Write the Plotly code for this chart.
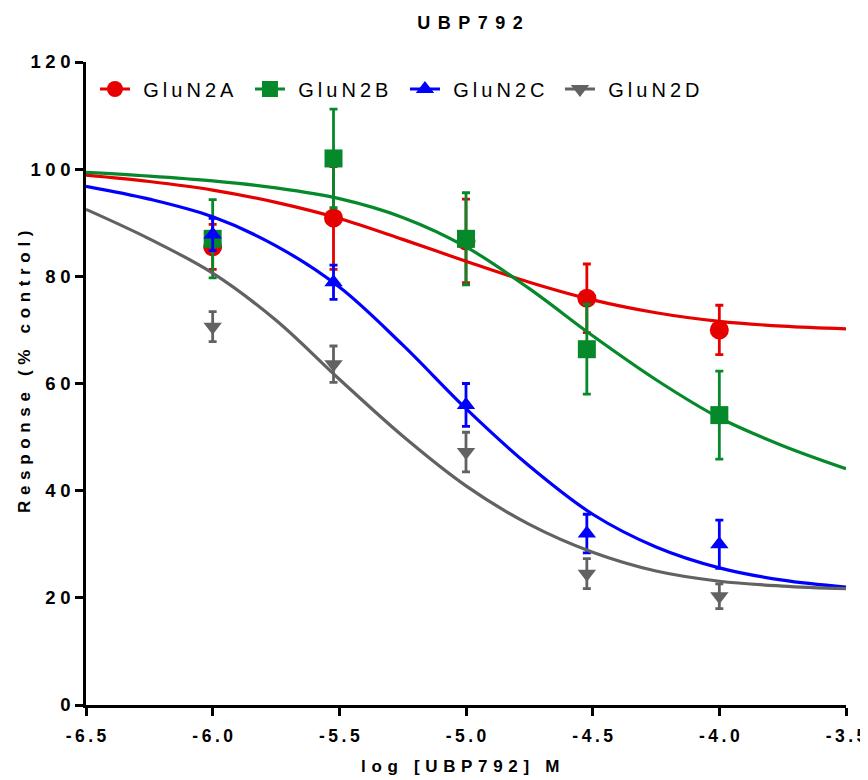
import plotly.graph_objects as go

# spacing characters used to mimic the letter-spaced GraphPad text
S_TITLE = "\u2004\u200a"
S_XTICK = "\u2009"
S_YTICK = "\u2005"
S_XLAB = "\u2004"
S_YLAB = "\u2005\u200a"
S_LEG = "\u2009"
LEG_PAD = "\u2004\u200a"


def spaced(s, sep):
    return sep.join(list(s))


# ---- data points (mean ± SEM) ----
x_pts = [-6.0, -5.523, -5.0, -4.523, -4.0]

glun2a_y = [85.5, 90.9, 86.6, 75.9, 70.0]
glun2a_e = [4.2, 9.6, 7.8, 6.4, 4.6]

glun2b_y = [87.0, 102.0, 87.0, 66.4, 54.1]
glun2b_e = [7.3, 9.2, 8.6, 8.4, 8.2]

glun2c_y = [87.8, 78.9, 56.0, 32.0, 30.0]
glun2c_e = [3.0, 3.2, 4.0, 3.6, 4.5]

glun2d_y = [70.6, 63.6, 47.2, 24.5, 20.3]
glun2d_e = [2.8, 3.4, 3.7, 2.8, 2.3]

# ---- fitted curves ----
x_fit = [-6.5, -6.25, -6.0, -5.75, -5.5, -5.25, -5.0, -4.75, -4.5, -4.25, -4.0, -3.75, -3.5]
glun2a_fit = [98.9, 97.7, 96.1, 93.8, 90.8, 86.9, 82.8, 78.9, 75.6, 73.2, 71.6, 70.7, 70.2]
glun2b_fit = [99.4, 98.7, 97.8, 96.5, 94.5, 91.0, 85.5, 77.7, 68.9, 60.7, 53.6, 48.4, 44.1]
glun2c_fit = [96.8, 94.4, 91.1, 85.7, 78.0, 67.2, 55.3, 44.6, 35.6, 29.5, 25.6, 23.3, 22.0]
glun2d_fit = [92.5, 87.0, 80.6, 71.8, 60.8, 50.2, 40.9, 33.7, 28.5, 25.0, 23.1, 22.2, 21.7]

names = ["GluN2A", "GluN2B", "GluN2C", "GluN2D"]
colors = ["#E60000", "#05892B", "#0000FF", "#626262"]
symbols = ["circle", "square", "triangle-up", "triangle-down"]
sizes = [19, 18, 16, 16]

x_tickvals = [-6.5, -6.0, -5.5, -5.0, -4.5, -4.0, -3.5]
x_ticktext = ["-6.5", "-6.0", "-5.5", "-5.0", "-4.5", "-4.0", "-3.5"]
y_tickvals = [0, 20, 40, 60, 80, 100, 120]
y_ticktext = ["0", "20", "40", "60", "80", "100", "120"]

ys = [glun2a_y, glun2b_y, glun2c_y, glun2d_y]
es = [glun2a_e, glun2b_e, glun2c_e, glun2d_e]
fits = [glun2a_fit, glun2b_fit, glun2c_fit, glun2d_fit]

FONT = "Liberation Sans"

# the page body adds an 8px offset, so the figure is 8px smaller than the window
W, H = 860, 772
L, R, T, B = 78, 22, 54, 75
PW, PH = W - L - R, H - T - B

fig = go.Figure()

for i in range(4):
    fig.add_trace(go.Scatter(
        x=x_pts, y=ys[i], mode="markers",
        marker=dict(symbol=symbols[i], size=sizes[i], color=colors[i]),
        error_y=dict(type="data", array=es[i], visible=True, color=colors[i],
                     thickness=2.8, width=4),
        showlegend=False))

for i in range(4):
    fig.add_trace(go.Scatter(
        x=x_fit, y=fits[i], mode="lines",
        line=dict(color=colors[i], width=3.2, shape="spline", smoothing=1.0),
        showlegend=False, hoverinfo="skip"))

for i in range(4):
    fig.add_trace(go.Scatter(
        x=[None], y=[None], mode="lines+markers",
        name=LEG_PAD + spaced(names[i], S_LEG),
        marker=dict(symbol=symbols[i], size=16, color=colors[i]),
        line=dict(color=colors[i], width=3.2)))

fig.update_layout(
    width=W, height=H,
    margin=dict(l=L, r=R, t=T, b=B, autoexpand=False),
    paper_bgcolor="white", plot_bgcolor="white",
    title=dict(text="<b>" + spaced("UBP792", S_TITLE) + "</b>",
               x=462 / W, xanchor="center", y=1 - 15 / H, yanchor="middle",
               font=dict(family=FONT, size=18, color="black")),
    legend=dict(orientation="h", x=0.0118, y=(697 - 81) / PH, xanchor="left",
                yanchor="middle",
                font=dict(family=FONT, size=20, color="black"),
                bgcolor="rgba(0,0,0,0)", itemwidth=30,
                entrywidth=110, entrywidthmode="pixels"),
    showlegend=True,
    annotations=[
        dict(text="<b>" + spaced("log [UBP792] M", S_XLAB) + "</b>",
             xref="paper", yref="paper", x=(452 - L) / PW, y=(697 - 758) / PH,
             xanchor="center", yanchor="middle", showarrow=False,
             font=dict(family=FONT, size=17, color="black")),
        dict(text="<b>" + spaced("Response (% control)", S_YLAB) + "</b>",
             xref="paper", yref="paper", x=(16 - L) / PW, y=(697 - 364) / PH,
             xanchor="center", yanchor="middle", showarrow=False, textangle=-90,
             font=dict(family=FONT, size=17, color="black")),
    ],
)

fig.update_xaxes(
    range=[-6.5, -3.5], tickvals=x_tickvals,
    ticktext=[spaced(t, S_XTICK) for t in x_ticktext],
    showgrid=False, zeroline=False, showline=True, linecolor="black", linewidth=2.5,
    ticks="outside", ticklen=8, tickwidth=2.5, tickcolor="black",
    tickfont=dict(family=FONT, size=17.5, color="black", weight="bold"),
    ticklabelstandoff=5, automargin=False,
)
fig.update_yaxes(
    range=[0, 120], tickvals=y_tickvals,
    ticktext=[spaced(t, S_YTICK) for t in y_ticktext],
    showgrid=False, zeroline=False, showline=True, linecolor="black", linewidth=2.5,
    ticks="outside", ticklen=8, tickwidth=2.5, tickcolor="black",
    tickfont=dict(family=FONT, size=18.5, color="black", weight="bold"),
    ticklabelstandoff=1, automargin=False,
)

fig.write_html("out.html")
